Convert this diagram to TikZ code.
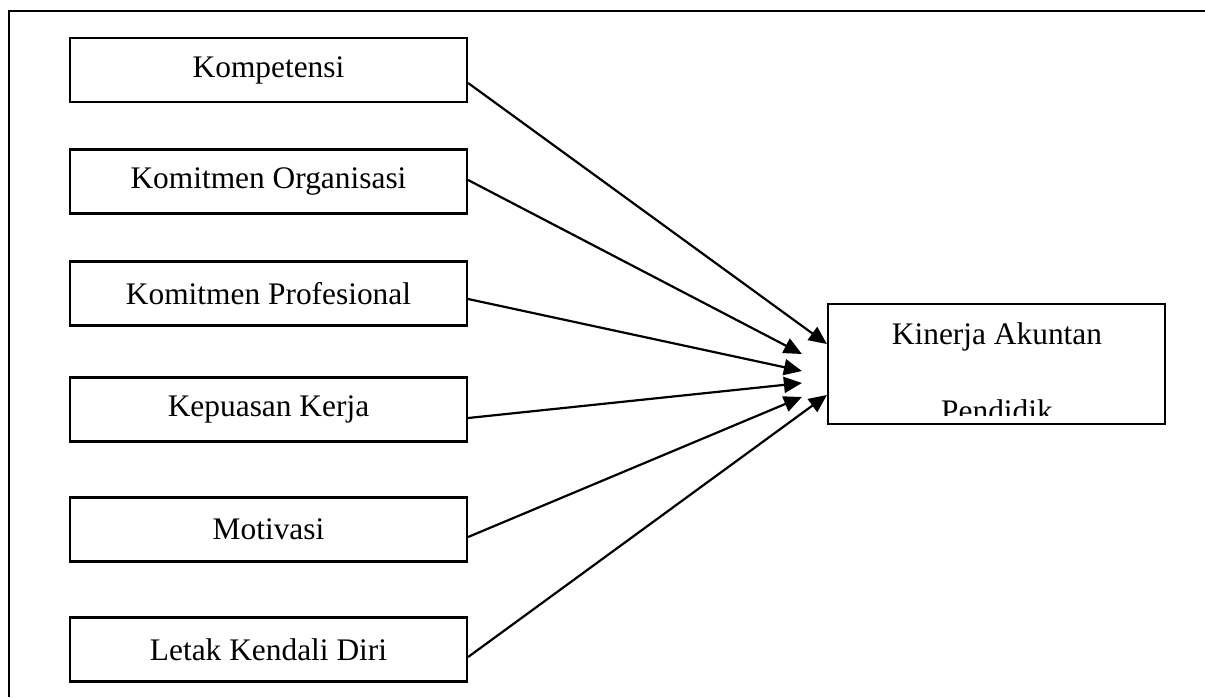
\documentclass[tikz,border=0pt]{standalone}
\usepackage{fontspec}
\setmainfont{Liberation Serif}
\usetikzlibrary{positioning, arrows.meta}

\begin{document}
\begin{tikzpicture}[x=0.5pt, y=-0.5pt, -{Triangle[length=9pt,width=8pt]},
      line width=1.1pt, font=\fontsize{15.7}{18}\selectfont,
      varbox/.style={rectangle, draw, minimum width=198.5pt, minimum height=32pt, inner sep=0pt}]
      \useasboundingbox (0,0) rectangle (1205,697);
      % frame
      \draw[-] (9,697) -- (9,11) -- (1205,11);
      % independent variables
      \node[varbox] (komp) at (268.5,70) {Kompetensi};
      \node[varbox] (korg) at (268.5,181.5) {Komitmen Organisasi};
      \node[varbox] (kprof) at (268.5,293.5) {Komitmen Profesional};
      \node[varbox] (kpuas) at (268.5,409.5) {Kepuasan Kerja};
      \node[varbox] (motiv) at (268.5,529.5) {Motivasi};
      \node[varbox] (letak) at (268.5,649.5) {Letak Kendali Diri};
      % dependent variable
      \node[rectangle, draw, minimum width=168.5pt, minimum height=60pt, inner sep=0pt] (kin) at (996.5,364) {};
      \node[anchor=base, inner sep=0pt] (kin_a) at (997,344) {Kinerja Akuntan};
      \begin{scope}
        \clip (829,305) rectangle (1164,415);
        \node[anchor=base, inner sep=0pt] (kin_b) at (997,421) {Pendidik};
      \end{scope}
      % arrows
      \path ([yshift=-6.5pt]komp.east) edge ([yshift=10pt]kin.west);
      \path ([yshift=0.75pt]korg.east) edge ([xshift=-12.5pt, yshift=5pt]kin.west);
      \path ([yshift=-2.75pt]kprof.east) edge ([xshift=-12.5pt, yshift=-3.5pt]kin.west);
      \path ([yshift=-4.25pt]kpuas.east) edge ([xshift=-12.5pt, yshift=-9.5pt]kin.west);
      \path ([yshift=-3.75pt]motiv.east) edge ([xshift=-12.5pt, yshift=-16.5pt]kin.west);
      \path ([yshift=-3.75pt]letak.east) edge ([yshift=-15.5pt]kin.west);
\end{tikzpicture}
\end{document}
